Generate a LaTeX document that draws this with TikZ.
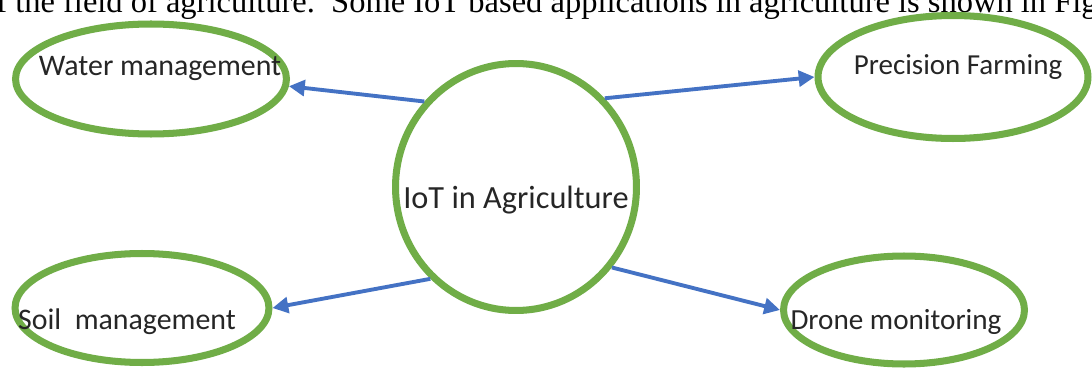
\documentclass[tikz,border=0pt]{standalone}
\usepackage{fontspec}
\setmainfont{Carlito}
\newfontfamily\serifbody{Liberation Serif}
\usetikzlibrary{shapes.geometric,arrows.meta}
\definecolor{ogreen}{HTML}{70AD47}
\definecolor{oblue}{HTML}{4472C4}
\begin{document}
\begin{tikzpicture}[x=0.02cm,y=-0.02cm,
  bubble/.style={ellipse, draw=ogreen, line width=4pt, inner sep=0pt},
  lbl/.style={font=\fontsize{17}{20}\selectfont, text=black!85, inner sep=0pt},
  link/.style={draw=oblue, line width=2.2pt, -{Triangle[length=9pt,width=9pt]}}]
\useasboundingbox (0,0) rectangle (1092,368);
\clip (0,0) rectangle (1092,368);
\fill[white] (0,0) rectangle (1092,368);
\node[anchor=base west, inner sep=0pt, font=\serifbody\fontsize{18.5}{22}\selectfont] (top) at (-4,13) {f the field of agriculture.\ \ Some IoT based applications in agriculture is shown in Figu};
\node[bubble, minimum width=4.82cm, minimum height=4.94cm] (c) at (516,187) {};
\node[bubble, minimum width=5.42cm, minimum height=2.2cm] (w) at (151,79) {};
\node[bubble, minimum width=5.4cm, minimum height=2.46cm] (p) at (953,77) {};
\node[bubble, minimum width=5.08cm, minimum height=2.18cm] (s) at (142,308) {};
\node[bubble, minimum width=4.82cm, minimum height=2.16cm] (d) at (904,310) {};
\node[lbl, font=\fontsize{18.4}{22}\selectfont] (ct) at (516,200) {IoT in Agriculture};
\node[lbl] (wt) at (160,68) {Water management};
\node[lbl, font=\fontsize{16.5}{20}\selectfont] (pt) at (958,67) {Precision Farming};
\node[lbl] (st) at (127,322) {Soil\ \ management};
\node[lbl, font=\fontsize{16.6}{20}\selectfont] (dt) at (896,322) {Drone monitoring};
\draw[link] (c.137) -- (w.-3);
\draw[link] (c.45) -- (p.180);
\draw[link] (c.227) -- (s.0);
\draw[link] (c.-40) -- (d.180);
\end{tikzpicture}
\end{document}
